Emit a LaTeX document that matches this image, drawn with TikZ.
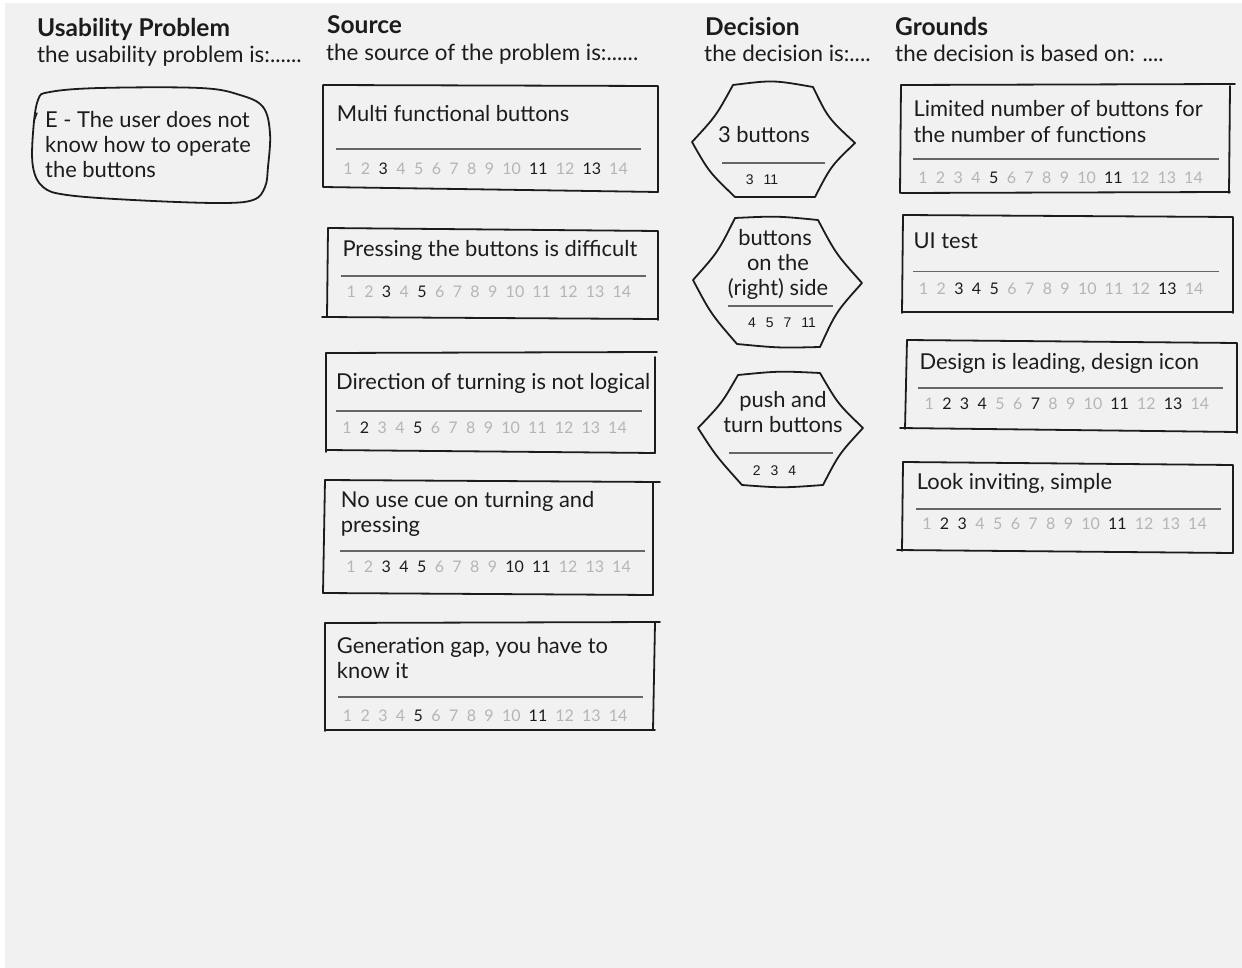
\documentclass[tikz,border=0pt]{standalone}
\usepackage{fontspec}
\setmainfont{Lato}
\newfontfamily\tallyfont{Liberation Sans}

\definecolor{canvas}{HTML}{F1F1F1}
\definecolor{ink}{HTML}{1C1C1C}
\definecolor{faint}{HTML}{B5B5B5}
\definecolor{rulegray}{HTML}{666666}

% one number of a 1..14 tally row, in a fixed-width slot
\newcommand\numslot[2]{\hbox to \ifnum#2>9 18pt\else 9pt\fi{\hss\textcolor{#1}{#2}\hss}}
\newcommand\lo[1]{\numslot{faint}{#1}\hspace{8.7pt}}
\newcommand\hi[1]{\numslot{ink}{#1}\hspace{8.7pt}}
% gap between the numbers under a decision
\newcommand\gap{\hspace{10pt}}

\tikzset{
  heading/.style={anchor=base west, inner sep=0, text=ink, font=\fontsize{24.5}{28}\selectfont\bfseries},
  subheading/.style={anchor=base west, inner sep=0, text=ink, font=\fontsize{22.4}{26}\selectfont},
  cardtext/.style={anchor=base west, inner sep=0, text=ink, font=\fontsize{21.9}{25}\selectfont},
  hextext/.style={anchor=base, inner sep=0, text=ink, font=\fontsize{21.9}{25}\selectfont},
  tally/.style={anchor=west, inner sep=0, font=\fontsize{16}{18}\selectfont},
  hextally/.style={anchor=base, inner sep=0, text=ink, font=\tallyfont\fontsize{14}{16}\selectfont},
  outline/.style={draw=ink, line width=1.8pt, line join=round, line cap=round},
  divider/.style={draw=rulegray, line width=1.6pt},
}

\begin{document}
\begin{tikzpicture}[x=1pt, y=-1pt]
\useasboundingbox (0,0) rectangle (1242,968);
\fill[white] (0,0) rectangle (1242,968);
\fill[canvas] (5,3) rectangle (1242,968);

% ---------- column headings ----------
\node[heading]    (h-use)  at (37,37)   {Usability Problem};
\node[subheading] (s-use)  at (37,62.5) {the usability problem is:......};
\node[heading]    (h-src)  at (327,34)  {Source};
\node[subheading] (s-src)  at (326,60.5){the source of the problem is:......};
\node[heading]    (h-dec)  at (705,36)  {Decision};
\node[subheading] (s-dec)  at (704,61.5){the decision is:....};
\node[heading]    (h-grd)  at (895,36)  {Grounds};
\node[subheading] (s-grd)  at (895,61.5){the decision is based on: ....};

% ---------- usability problem ----------
\draw[outline] plot[smooth cycle, tension=0.6] coordinates {
  (38,100) (50,92) (100,88) (200,88) (240,95) (263,107) (270,133) (268,167)
  (265,187) (253,200) (217,203) (133,200) (67,195) (43,187) (33,167) (33,133)};
\draw[outline, line width=1.4pt] (34,121) -- (37,113);
\node[cardtext] (u1a) at (45,128) {E - The user does not};
\node[cardtext] (u1b) at (45,153) {know how to operate};
\node[cardtext] (u1c) at (45,178) {the buttons};

% ---------- sources ----------
% S1
\draw[outline] (323,85) -- (658,86) -- (658,192) -- (323,187) -- cycle;
\node[cardtext] (src1) at (336.7,121.5) {Multi functional buttons};
\draw[divider] (336,149) -- (641,149);
\node[tally] (src1n) at (343.2,168.5)
  {\lo{1}\lo{2}\hi{3}\lo{4}\lo{5}\lo{6}\lo{7}\lo{8}\lo{9}\lo{10}\hi{11}\lo{12}\hi{13}\lo{14}};

% S2
\draw[outline] (328,228) -- (658,231) -- (658,320);
\draw[outline] (322,317) -- (658,319);
\draw[outline] (328,228) -- (327,317);
\node[cardtext] (src2) at (342.3,256.5) {Pressing the buttons is difficult};
\draw[divider] (340.7,276) -- (645.7,276);
\node[tally] (src2n) at (346.5,291.7)
  {\lo{1}\lo{2}\hi{3}\lo{4}\hi{5}\lo{6}\lo{7}\lo{8}\lo{9}\lo{10}\lo{11}\lo{12}\lo{13}\lo{14}};

% S3
\draw[outline] (326,353) -- (657,352);
\draw[outline] (655,357) -- (655,453);
\draw[outline] (326,450) -- (655,453);
\draw[outline] (326,353) -- (326,452);
\node[cardtext] (src3) at (336,389.8) {Direction of turning is not logical};
\draw[divider] (336,411) -- (641.7,411);
\node[tally] (src3n) at (342.2,427.7)
  {\lo{1}\hi{2}\lo{3}\lo{4}\hi{5}\lo{6}\lo{7}\lo{8}\lo{9}\lo{10}\lo{11}\lo{12}\lo{13}\lo{14}};

% S4
\draw[outline] (325,480) -- (660,482);
\draw[outline] (653,482) -- (653,595);
\draw[outline] (323,593) -- (653,595);
\draw[outline] (325,480) -- (323,593);
\node[cardtext] (src4a) at (340.7,507.2) {No use cue on turning and};
\node[cardtext] (src4b) at (340.7,532.2) {pressing};
\draw[divider] (340,550.7) -- (645,550.7);
\node[tally] (src4n) at (346.2,566.7)
  {\lo{1}\lo{2}\hi{3}\hi{4}\hi{5}\lo{6}\lo{7}\lo{8}\lo{9}\hi{10}\hi{11}\lo{12}\lo{13}\lo{14}};

% S5
\draw[outline] (325,623) -- (660,622);
\draw[outline] (655,623) -- (653,730);
\draw[outline] (325,730) -- (655,730);
\draw[outline] (325,623) -- (325,731);
\node[cardtext] (src5a) at (336.7,653.2) {Generation gap, you have to};
\node[cardtext] (src5b) at (336.7,678.2) {know it};
\draw[divider] (338.3,696.7) -- (643.3,696.7);
\node[tally] (src5n) at (342.8,715.7)
  {\lo{1}\lo{2}\lo{3}\lo{4}\hi{5}\lo{6}\lo{7}\lo{8}\lo{9}\lo{10}\hi{11}\lo{12}\lo{13}\lo{14}};

% ---------- decisions ----------
% D1
\draw[outline] (733,85) .. controls (773,80) .. (813,87)
  .. controls (828,118) .. (855,143)
  .. controls (831,166) .. (815,197)
  -- (735,197)
  .. controls (709,172) .. (692,142)
  .. controls (716,116) .. (733,85) -- cycle;
\node[hextext] (dec1) at (764,142.7) {3 buttons};
\draw[divider] (722,163) -- (825,163);
\node[hextally] (dec1n) at (762,185) {3\gap 11};

% D2
\draw[outline] (735,218) .. controls (777,216) .. (818,220)
  .. controls (836,254) .. (862,283)
  .. controls (836,312) .. (820,347)
  .. controls (779,348) .. (737,344)
  .. controls (711,314) .. (693,280)
  .. controls (718,252) .. (735,218) -- cycle;
\node[hextext] (dec2a) at (775,246) {buttons};
\node[hextext] (dec2b) at (778,271) {on the};
\node[hextext] (dec2c) at (778,296) {(right) side};
\draw[divider] (728,306) -- (833,306);
\node[hextally] (dec2n) at (782,327.7) {4\gap 5\gap 7\gap 11};

% D3
\draw[outline] (738,375) .. controls (779,371) .. (820,373)
  .. controls (838,404) .. (863,428)
  .. controls (839,454) .. (823,485)
  .. controls (782,488) .. (742,485)
  .. controls (716,456) .. (698,428)
  .. controls (722,403) .. (738,375) -- cycle;
\node[hextext] (dec3a) at (783,407.7) {push and};
\node[hextext] (dec3b) at (783,432.7) {turn buttons};
\draw[divider] (729,453) -- (833,453);
\node[hextally] (dec3n) at (774.5,475) {2\gap 3\gap 4};

% ---------- grounds ----------
% G1
\draw[outline] (901,85) -- (1235,84);
\draw[outline] (1230,86) -- (1229,193);
\draw[outline] (901,193) -- (1230,192);
\draw[outline] (901,85) -- (900,193);
\node[cardtext] (grd1a) at (913.3,116.5) {Limited number of buttons for};
\node[cardtext] (grd1b) at (913.3,142.2) {the number of functions};
\draw[divider] (913.3,159) -- (1219.3,159);
\node[tally] (grd1n) at (918.2,177.3)
  {\lo{1}\lo{2}\lo{3}\lo{4}\hi{5}\lo{6}\lo{7}\lo{8}\lo{9}\lo{10}\hi{11}\lo{12}\lo{13}\lo{14}};

% G2
\draw[outline] (903,215) -- (1233,217) -- (1233,313);
\draw[outline] (903,312) -- (1233,312);
\draw[outline] (903,215) -- (902,313);
\node[cardtext] (grd2) at (913.3,248.2) {UI test};
\draw[divider] (913.3,271.7) -- (1219.3,271.7);
\node[tally] (grd2n) at (918.8,288.3)
  {\lo{1}\lo{2}\hi{3}\hi{4}\hi{5}\lo{6}\lo{7}\lo{8}\lo{9}\lo{10}\lo{11}\lo{12}\hi{13}\lo{14}};

% G3
\draw[outline] (907,340) -- (1237,343) -- (1237,433);
\draw[outline] (900,428) -- (1237,432);
\draw[outline] (907,340) -- (905,429);
\node[cardtext] (grd3) at (919.3,369.8) {Design is leading, design icon};
\draw[divider] (918.3,387.7) -- (1223.3,387.7);
\node[tally] (grd3n) at (924.5,403.3)
  {\lo{1}\hi{2}\hi{3}\hi{4}\lo{5}\lo{6}\hi{7}\lo{8}\lo{9}\lo{10}\hi{11}\lo{12}\hi{13}\lo{14}};

% G4
\draw[outline] (903,462) -- (1233,465) -- (1233,553);
\draw[outline] (897,550) -- (1233,553);
\draw[outline] (903,462) -- (902,551);
\node[cardtext] (grd4) at (916.7,489.8) {Look inviting, simple};
\draw[divider] (916,509) -- (1221,509);
\node[tally] (grd4n) at (922.2,524)
  {\lo{1}\hi{2}\hi{3}\lo{4}\lo{5}\lo{6}\lo{7}\lo{8}\lo{9}\lo{10}\hi{11}\lo{12}\lo{13}\lo{14}};
\end{tikzpicture}
\end{document}
